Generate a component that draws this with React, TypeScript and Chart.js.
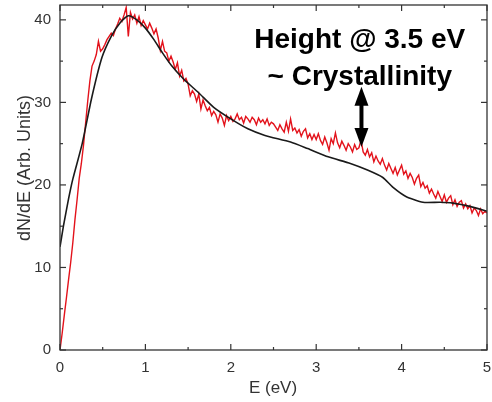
import React, { useEffect, useRef } from "react";
import { Chart, registerables } from "chart.js";

Chart.register(...registerables);

// ---- data ----
const X_MIN = 0;
const X_MAX = 5;
const Y_MIN = 0;
const Y_MAX = 41.8;
const X_MAJOR = [0, 1, 2, 3, 4, 5];
const X_MINOR = [0.5, 1.5, 2.5, 3.5, 4.5];
const Y_MAJOR = [0, 10, 20, 30, 40];
const Y_MINOR = [5, 15, 25, 35];

// smooth reference curve (black)
const BLACK_E = [0, 0.04, 0.1, 0.15, 0.26, 0.37, 0.49, 0.6, 0.7, 0.8, 0.9, 1.0, 1.1, 1.2, 1.31, 1.45, 1.62, 1.8, 2.0, 2.2, 2.4, 2.7, 2.9, 3.14, 3.4, 3.6, 3.78, 3.9, 4.05, 4.25, 4.45, 4.6, 4.8, 5.0];
const BLACK_Y = [12.5, 15, 18.3, 20.7, 25, 30.5, 35.4, 38, 39.6, 40.5, 40, 39, 37.6, 36, 34.4, 32.8, 31.2, 29.4, 28, 26.8, 26, 25.2, 24.4, 23.4, 22.6, 21.8, 20.9, 19.7, 18.6, 17.9, 17.9, 17.8, 17.4, 16.8];

// measured spectrum (red), sampled every RED_STEP eV from 0
const RED_STEP = 0.025;
const RED_Y = [
  0, 2.0, 4.2, 6.3, 8.5, 10.6, 13.0, 15.8, 18.2, 20.8,
  22.6, 24.8, 27.5, 30.2, 32.6, 34.4, 35.0, 35.8, 37.4, 36.2,
  36.5, 37.0, 37.6, 38.0, 38.4, 38.1, 38.9, 39.5, 40.2, 39.8,
  40.6, 41.5, 38.0, 40.9, 40.1, 40.6, 39.6, 40.4, 39.3, 39.9,
  39.4, 38.9, 39.6, 39.0, 38.3, 38.9, 37.8, 36.3, 37.4, 36.2,
  36.0, 35.0, 35.6, 34.9, 34.0, 34.8, 33.2, 33.9, 32.6, 32.9,
  32.2, 30.8, 31.4, 31.0, 30.1, 31.0, 29.2, 30.3, 29.6, 29.0,
  29.4, 28.4, 28.9, 28.5, 27.6, 28.6, 28.1, 27.2, 28.4, 27.8,
  28.3, 27.7, 28.0, 28.6, 27.9, 28.2, 27.5, 28.3, 28.0, 27.6,
  28.2, 27.9, 27.3, 28.1, 27.6, 27.9, 27.4, 28.0, 27.2, 27.6,
  27.4, 27.0, 26.6, 27.3, 26.8, 26.4, 27.6, 26.5, 28.0, 26.6,
  26.9, 26.3, 26.7, 25.9, 26.5, 26.8, 25.7, 26.2, 25.5, 26.1,
  25.5, 26.2, 25.4, 24.9, 25.8, 25.1, 24.2, 25.6, 25.0, 26.3,
  25.1, 24.5, 25.3, 24.8, 24.2, 25.0, 24.6, 24.0, 24.9, 24.3,
  24.5, 25.4, 24.0, 23.6, 24.3, 23.4, 23.9, 22.8, 23.5, 22.9,
  22.5, 23.2, 22.4, 21.8, 22.6, 22.0, 21.4, 22.1, 21.2, 21.8,
  22.4, 21.3, 21.7, 20.8, 21.4, 20.9, 20.1, 20.8, 21.2, 19.8,
  20.3, 19.6, 19.9, 19.0, 19.5, 18.9, 18.4, 19.2, 18.6, 18.0,
  18.8, 17.9, 18.4, 18.7, 17.6, 18.2, 17.4, 17.9, 18.1, 17.2,
  17.7, 17.1, 17.5, 16.6, 17.2, 16.9, 16.3, 17.1, 16.5, 16.8,
  16.6,
];

const X_TITLE = "E (eV)";
const Y_TITLE = "dN/dE (Arb. Units)";
const NOTE_LINES = ["Height @ 3.5 eV", "~ Crystallinity"];
const NOTE_E = 3.51;
const NOTE_BASELINES = [36.6, 32.1];
const ARROW_E = 3.53;
const ARROW_TOP = 31.9;
const ARROW_BOTTOM = 24.6;

const FONT = "'Liberation Sans', Arial, Helvetica, sans-serif";
const AXIS_COLOR = "#333333";

const framePlugin = {
  id: "frame",
  afterDraw(chart: any) {
    const { ctx, chartArea: a, scales } = chart;
    const xs = scales.x;
    const ys = scales.y;
    ctx.save();
    ctx.strokeStyle = AXIS_COLOR;
    ctx.lineWidth = 1.3;
    ctx.strokeRect(a.left, a.top, a.right - a.left, a.bottom - a.top);
    const seg = (x1: number, y1: number, x2: number, y2: number) => {
      ctx.beginPath();
      ctx.moveTo(x1, y1);
      ctx.lineTo(x2, y2);
      ctx.stroke();
    };
    ctx.lineWidth = 1.2;
    X_MAJOR.forEach((v) => {
      const p = xs.getPixelForValue(v);
      seg(p, a.bottom, p, a.bottom - 6);
      seg(p, a.top, p, a.top + 6);
    });
    X_MINOR.forEach((v) => {
      const p = xs.getPixelForValue(v);
      seg(p, a.bottom, p, a.bottom - 3);
      seg(p, a.top, p, a.top + 3);
    });
    Y_MAJOR.forEach((v) => {
      const p = ys.getPixelForValue(v);
      seg(a.left, p, a.left + 6, p);
      seg(a.right, p, a.right - 6, p);
    });
    Y_MINOR.forEach((v) => {
      const p = ys.getPixelForValue(v);
      seg(a.left, p, a.left + 3, p);
      seg(a.right, p, a.right - 3, p);
    });

    // axis titles
    ctx.fillStyle = AXIS_COLOR;
    ctx.font = `17px ${FONT}`;
    ctx.textAlign = "center";
    ctx.textBaseline = "middle";
    ctx.fillText(X_TITLE, 273, 388);
    ctx.save();
    ctx.font = `18px ${FONT}`;
    ctx.translate(25, 168);
    ctx.rotate(-Math.PI / 2);
    ctx.fillText(Y_TITLE, 0, 0);
    ctx.restore();

    // annotation
    ctx.fillStyle = "#000";
    ctx.font = `bold 28px ${FONT}`;
    ctx.textAlign = "center";
    ctx.textBaseline = "alphabetic";
    const nx = xs.getPixelForValue(NOTE_E);
    NOTE_LINES.forEach((t, i) => {
      ctx.fillText(t, nx, ys.getPixelForValue(NOTE_BASELINES[i]));
    });

    // double-headed arrow
    const ax = xs.getPixelForValue(ARROW_E);
    const top = ys.getPixelForValue(ARROW_TOP);
    const bot = ys.getPixelForValue(ARROW_BOTTOM);
    const headL = 19;
    const headW = 7;
    ctx.strokeStyle = "#000";
    ctx.lineWidth = 4;
    seg(ax, top + headL - 2, ax, bot - headL + 2);
    ctx.beginPath();
    ctx.moveTo(ax, top);
    ctx.lineTo(ax - headW, top + headL);
    ctx.lineTo(ax + headW, top + headL);
    ctx.closePath();
    ctx.fill();
    ctx.beginPath();
    ctx.moveTo(ax, bot);
    ctx.lineTo(ax - headW, bot - headL);
    ctx.lineTo(ax + headW, bot - headL);
    ctx.closePath();
    ctx.fill();
    ctx.restore();
  },
};

export default function App() {
  const ref = useRef<HTMLCanvasElement | null>(null);
  useEffect(() => {
    if (!ref.current) return;
    const redPts = RED_Y.map((y, i) => ({ x: i * RED_STEP, y }));
    const blackPts = BLACK_E.map((x, i) => ({ x, y: BLACK_Y[i] }));
    const chart = new Chart(ref.current, {
      type: "line",
      data: {
        datasets: [
          {
            data: blackPts,
            borderColor: "#1a1a1a",
            borderWidth: 1.6,
            pointRadius: 0,
            tension: 0.2,
            fill: false,
          },
          {
            data: redPts,
            borderColor: "#e3121b",
            borderWidth: 1.4,
            pointRadius: 0,
            tension: 0,
            fill: false,
          },
        ],
      },
      options: {
        animation: false,
        responsive: false,
        devicePixelRatio: 1,
        layout: { padding: { top: 5, right: 5, left: 0, bottom: 0 } },
        plugins: { legend: { display: false }, tooltip: { enabled: false } },
        scales: {
          x: {
            type: "linear",
            min: X_MIN,
            max: X_MAX,
            grid: { display: false, drawTicks: false },
            border: { display: false },
            ticks: {
              stepSize: 1,
              padding: 9,
              maxRotation: 0,
              color: AXIS_COLOR,
              font: { family: FONT, size: 15 },
            },
            afterBuildTicks: (s: any) => {
              s.ticks = X_MAJOR.map((v) => ({ value: v }));
            },
            afterFit: (s: any) => {
              s.height = 52;
              s.paddingLeft = 0;
              s.paddingRight = 0;
            },
          },
          y: {
            type: "linear",
            min: Y_MIN,
            max: Y_MAX,
            grid: { display: false, drawTicks: false },
            border: { display: false },
            ticks: {
              stepSize: 10,
              padding: 9,
              color: AXIS_COLOR,
              font: { family: FONT, size: 15 },
            },
            afterBuildTicks: (s: any) => {
              s.ticks = Y_MAJOR.map((v) => ({ value: v }));
            },
            afterFit: (s: any) => {
              s.width = 60;
              s.paddingTop = 0;
              s.paddingBottom = 0;
            },
          },
        },
      },
      plugins: [framePlugin],
    });
    return () => chart.destroy();
  }, []);
  return (
    <div style={{ position: "absolute", left: 0, top: 0, width: 492, height: 402, background: "#fff" }}>
      <canvas ref={ref} width={492} height={402} style={{ display: "block" }} />
    </div>
  );
}
